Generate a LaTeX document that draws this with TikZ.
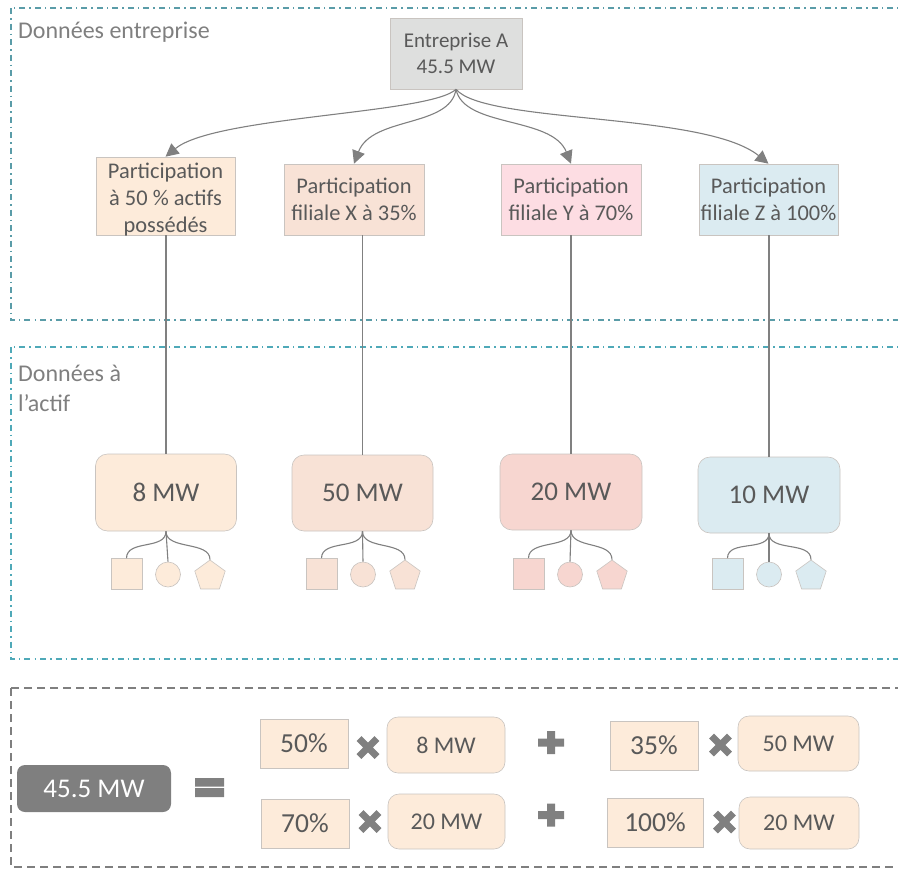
\documentclass[tikz,border=0pt]{standalone}
\usepackage{fontspec}
\setmainfont{Carlito}
\usetikzlibrary{arrows.meta,shapes.geometric}
\definecolor{txt}{HTML}{595959}
\definecolor{lbl}{HTML}{7F7F7F}
\definecolor{tealA}{HTML}{5A9CA8}
\definecolor{tealB}{HTML}{4FA9B8}
\definecolor{peach}{HTML}{FDEBDA}
\definecolor{salmon}{HTML}{F8E2D6}
\definecolor{pinkP}{HTML}{FDDDE3}
\definecolor{pinkM}{HTML}{F7D6D0}
\definecolor{blueP}{HTML}{DBEBF1}
\definecolor{greyE}{HTML}{DEDFDE}
\definecolor{bord}{HTML}{C9C4C0}
\definecolor{conncol}{HTML}{808080}
\definecolor{darkbox}{HTML}{7F7F7F}
\begin{document}
\begin{tikzpicture}[x=1pt,y=-1pt,
  frameA/.style={draw=tealA, line width=1.4pt, dash pattern=on 6pt off 4pt on 1.5pt off 4pt},
  frameB/.style={draw=lbl, line width=1.8pt, dash pattern=on 8pt off 5pt},
  seclabel/.style={anchor=west, inner sep=0, text=lbl, align=left, font=\fontsize{24}{30}\selectfont},
  pbox/.style={draw=bord, line width=0.6pt, inner sep=0, align=center, text=txt, font=\fontsize{22.4}{27}\selectfont},
  ptext/.style={inner sep=0, align=center, text=txt, font=\fontsize{22.4}{27}\selectfont},
  ebox/.style={draw=bord, line width=0.6pt, inner sep=0, align=center, text=txt, font=\fontsize{21}{26}\selectfont},
  mwbox/.style={draw=bord, line width=0.6pt, rounded corners=12pt, inner sep=0, text=txt, font=\fontsize{27}{30}\selectfont},
  eqbox/.style={draw=bord, line width=0.6pt, inner sep=0, text=txt, fill=peach, font=\fontsize{27.5}{30}\selectfont},
  eqmw/.style={draw=bord, line width=0.6pt, rounded corners=11pt, inner sep=0, text=txt, fill=peach, font=\fontsize{24}{30}\selectfont},
  arr/.style={draw=conncol, line width=1.1pt, -{Triangle[length=13pt,width=13pt]}, fill=none},
  conn/.style={draw=conncol, line width=1.1pt},
  sq/.style={draw=bord, line width=0.6pt, minimum size=31pt, inner sep=0},
  circ/.style={draw=bord, line width=0.6pt, circle, minimum size=25pt, inner sep=0},
  penta/.style={draw=bord, line width=0.6pt, regular polygon, regular polygon sides=5, minimum size=32pt, inner sep=0},
  xmark/.pic={\draw[conncol, line width=7pt] (-9,-9) -- (9,9) (-9,9) -- (9,-9);},
  plusmark/.pic={\fill[conncol] (-13,-4) rectangle (13,4) (-4,-11.5) rectangle (4,11.5);}
]
\useasboundingbox (0,0) rectangle (898,871);
\clip (0,0) rectangle (898,871);

% frames
\draw[frameA] (11,8) rectangle (915,320);
\draw[frameA, draw=tealB] (11,347) rectangle (915,659);
\draw[frameB] (11,688) rectangle (915,867);

% section labels
\node[seclabel] (lab1) at (18,32) {Données entreprise};
\node[seclabel] (lab2) at (18,388) {Données à\\l’actif};

% company
\node[ebox, fill=greyE, minimum width=132pt, minimum height=71pt] (E) at (456,53.5) {Entreprise A\\45.5 MW};

% participations
\node[pbox, fill=peach, minimum width=139pt, minimum height=78pt] (P1) at (165.5,196) {};
\node[ptext] (P1t) at (165.5,200) {Participation\\à 50 \% actifs\\possédés};
\node[pbox, fill=salmon, minimum width=140pt, minimum height=71pt] (P2) at (354,199.5) {Participation\\filiale X à 35\%};
\node[pbox, fill=pinkP, minimum width=140pt, minimum height=71pt] (P3) at (571,199.5) {Participation\\filiale Y à 70\%};
\node[pbox, fill=blueP, minimum width=139pt, minimum height=71pt] (P4) at (768.5,199.5) {Participation\\filiale Z à 100\%};

% arrows
\draw[arr] (E.south) .. controls (430,114) and (215,116) .. (P1.north);
\draw[arr] (E.south) .. controls (450,128) and (372,116) .. (P2.north);
\draw[arr] (E.south) .. controls (464,128) and (552,116) .. (P3.north);
\draw[arr] (E.south) .. controls (485,124) and (705,112) .. (P4.north);

% MW boxes
\node[mwbox, fill=peach, minimum width=141pt, minimum height=77pt] (M1) at (166,492.5) {8 MW};
\node[mwbox, fill=salmon, minimum width=141pt, minimum height=76pt] (M2) at (362.5,493) {50 MW};
\node[mwbox, fill=pinkM, minimum width=142pt, minimum height=76pt] (M3) at (571,492) {20 MW};
\node[mwbox, fill=blueP, minimum width=142pt, minimum height=76pt] (M4) at (769,495) {10 MW};

% vertical connectors
\draw[conn] (M1.north |- P1.south) -- (M1.north);
\draw[conn] (M2.north |- P2.south) -- (M2.north);
\draw[conn] (M3.north |- P3.south) -- (M3.north);
\draw[conn] (M4.north |- P4.south) -- (M4.north);

% assets
\foreach \i/\c/\col in {1/168/peach,2/363/salmon,3/570/pinkM,4/769/blueP}{
  \node[sq, fill=\col] (S\i) at (\c-41.5,574) {};
  \node[circ, fill=\col] (C\i) at (\c,574.5) {};
  \node[penta, fill=\col] (Q\i) at (\c+42,576) {};
  \draw[conn] (M\i.south) .. controls +(0,19) and +(0,-19) .. (S\i.north);
  \draw[conn] (M\i.south) -- (C\i.north);
  \draw[conn] (M\i.south) .. controls +(0,19) and +(0,-19) .. (Q\i.north);
}

% bottom equation
\node[draw=none, fill=darkbox, rounded corners=8pt, text=white, inner sep=0, minimum width=154pt, minimum height=47pt, font=\fontsize{27}{30}\selectfont] (T) at (94,788.5) {45.5 MW};
\fill[conncol] (195,778) rectangle (224,786.5) (195,788) rectangle (224,797);

\node[eqbox, minimum width=88pt, minimum height=49pt] (r1a) at (304,743.5) {50\%};
\pic at (368,747.5) {xmark};
\node[eqmw, minimum width=118pt, minimum height=56pt] (r1b) at (446,745) {8 MW};
\pic at (551,742.5) {plusmark};
\node[eqbox, minimum width=88pt, minimum height=49pt] (r1c) at (654,745.5) {35\%};
\pic at (720.5,745) {xmark};
\node[eqmw, minimum width=121pt, minimum height=55pt] (r1d) at (798.5,743.5) {50 MW};

\node[eqbox, minimum width=88pt, minimum height=49pt] (r2a) at (305,823.5) {70\%};
\pic at (370,821.5) {xmark};
\node[eqmw, minimum width=117pt, minimum height=55pt] (r2b) at (446.5,821.5) {20 MW};
\pic at (551,815) {plusmark};
\node[eqbox, minimum width=96pt, minimum height=49pt] (r2c) at (655,822.5) {100\%};
\pic at (724.5,822) {xmark};
\node[eqmw, minimum width=120pt, minimum height=52pt] (r2d) at (799,823) {20 MW};
\end{tikzpicture}
\end{document}
